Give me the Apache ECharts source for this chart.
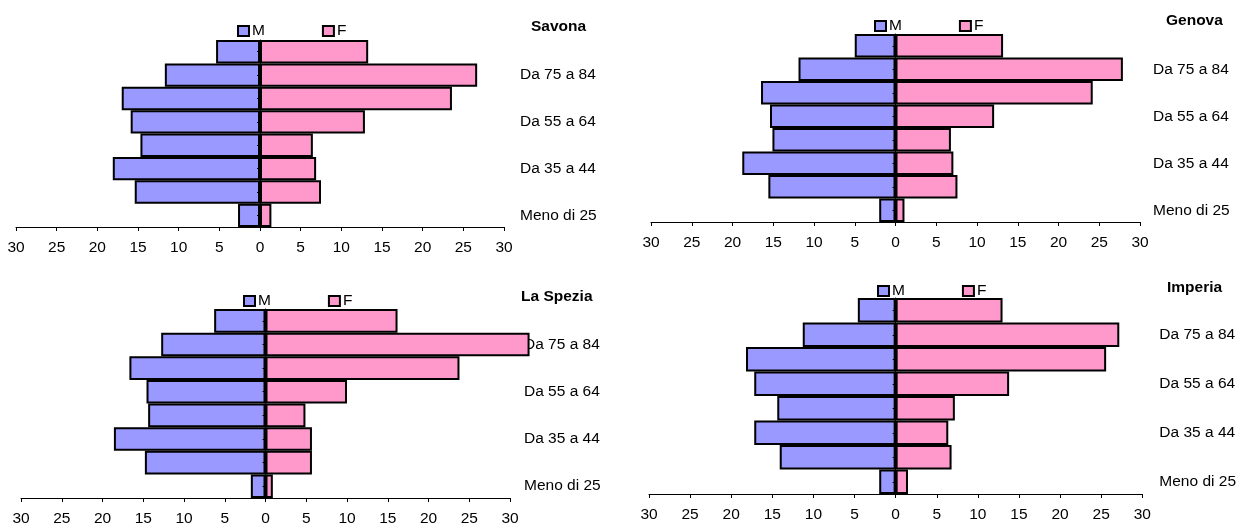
<!DOCTYPE html>
<html>
<head>
<meta charset="utf-8">
<script src="https://cdn.jsdelivr.net/npm/echarts@6/dist/echarts.min.js"></script>
<style>
  html, body { margin: 0; padding: 0; background: #fff; }
  #chart { width: 1239px; height: 527px; }
</style>
</head>
<body>
<div id="chart"></div>
<script>
// Age groups, bottom to top of each pyramid
const ageGroups = ['Meno di 25', 'Da 25 a 34', 'Da 35 a 44', 'Da 45 a 54',
                   'Da 55 a 64', 'Da 65 a 74', 'Da 75 a 84', '85 e oltre'];

// Share (%) of males and females per age group, by province
const savonaM   = [2.7, 15.4, 18.1, 14.7, 15.9, 17.0, 11.7, 5.4];
const savonaF   = [1.4, 7.5, 6.9, 6.5, 12.9, 23.6, 26.7, 13.3];
const genovaM   = [2.0, 15.6, 18.8, 15.1, 15.4, 16.5, 11.9, 5.0];
const genovaF   = [1.1, 7.6, 7.1, 6.8, 12.1, 24.2, 27.9, 13.2];
const speziaM   = [1.8, 14.8, 18.6, 14.4, 14.6, 16.7, 12.8, 6.3];
const speziaF   = [0.9, 5.7, 5.7, 4.9, 10.0, 23.8, 32.4, 16.2];
const imperiaM  = [2.0, 14.1, 17.2, 14.4, 17.2, 18.2, 11.3, 4.6];
const imperiaF  = [1.5, 6.8, 6.4, 7.2, 13.8, 25.6, 27.2, 13.0];

const provinces = ['Savona', 'Genova', 'La Spezia', 'Imperia'];
const valuesM = [savonaM, genovaM, speziaM, imperiaM];
const valuesF = [savonaF, genovaF, speziaF, imperiaF];

// Axis range of the value axis (shown as absolute numbers on both sides)
const axisMin = -30, axisMax = 30, axisStep = 5;

// Placement of each pyramid on the page
const layout = [
  { grid: { left: 16,  top: 40,  width: 488, height: 187 }, labelGap: 16, legend: { left: 237, top: 23 }, title: { left: 531,  top: 19 } },
  { grid: { left: 651, top: 34,  width: 489, height: 188 }, labelGap: 13, legend: { left: 874, top: 18 }, title: { left: 1166, top: 13 } },
  { grid: { left: 21,  top: 309, width: 489, height: 189 }, labelGap: 14, legend: { left: 243, top: 293 }, title: { left: 521, top: 289 } },
  { grid: { left: 649, top: 298, width: 496, height: 196 }, labelGap: 17, legend: { left: 877, top: 283 }, title: { left: 1167, top: 280 } }
];

const FONT = '"Liberation Sans", Arial, sans-serif';
const LABEL_SIZE = 15.5;
const colorM = '#9999FF';
const colorF = '#FF99CC';

const option = {
  backgroundColor: '#ffffff',
  animation: false,
  textStyle: { fontFamily: FONT, color: '#000' },
  title: [], legend: [], grid: [], xAxis: [], yAxis: [], series: []
};

provinces.forEach((name, i) => {
  const L = layout[i];
  option.title.push({
    text: name, left: L.title.left, top: L.title.top, padding: 0,
    textStyle: { fontFamily: FONT, fontSize: 15.5, fontWeight: 'bold', color: '#000' }
  });
  option.legend.push({
    data: ['M', 'F'], left: L.legend.left, top: L.legend.top, padding: 0,
    orient: 'horizontal', itemGap: 57, itemWidth: 11, itemHeight: 10,
    icon: 'rect', selectedMode: false,
    itemStyle: { borderColor: '#000', borderWidth: 2 },
    textStyle: { fontFamily: FONT, fontSize: LABEL_SIZE, color: '#000', padding: [0, 0, 0, -2] }
  });
  option.grid.push(Object.assign({ containLabel: false }, L.grid));
  option.xAxis.push({
    type: 'value', gridIndex: i, min: axisMin, max: axisMax, interval: axisStep,
    axisLine: { show: true, onZero: false, lineStyle: { color: '#000', width: 1 } },
    axisTick: { show: true, length: 4, lineStyle: { color: '#000' } },
    splitLine: { show: false },
    axisLabel: { margin: 13, fontSize: LABEL_SIZE, fontFamily: FONT, color: '#000',
                 formatter: v => String(Math.abs(v)) }
  });
  // central axis at zero, with ticks at each age group
  option.yAxis.push({
    type: 'category', gridIndex: i, data: ageGroups, position: 'left', z: 5,
    axisLine: { show: true, onZero: true, lineStyle: { color: '#000', width: 1 } },
    axisTick: { show: true, alignWithLabel: true, interval: 0, length: 3, lineStyle: { color: '#000' } },
    axisLabel: { show: false }, splitLine: { show: false }
  });
  // age group names on the right side
  option.yAxis.push({
    type: 'category', gridIndex: i, data: ageGroups, position: 'right',
    axisLine: { show: false }, axisTick: { show: false }, splitLine: { show: false },
    axisLabel: { show: true, interval: 1, margin: L.labelGap, fontSize: LABEL_SIZE,
                 fontFamily: FONT, color: '#000' }
  });
  const yIdx = i * 2;
  option.series.push({
    name: 'M', type: 'bar', xAxisIndex: i, yAxisIndex: yIdx,
    data: valuesM[i].map(v => -v), barCategoryGap: '0%', barGap: '-100%', clip: false,
    itemStyle: { color: colorM, borderColor: '#000', borderWidth: 2 }
  });
  option.series.push({
    name: 'F', type: 'bar', xAxisIndex: i, yAxisIndex: yIdx,
    data: valuesF[i].slice(), barCategoryGap: '0%', barGap: '-100%', clip: false,
    itemStyle: { color: colorF, borderColor: '#000', borderWidth: 2 }
  });
});

const chart = echarts.init(document.getElementById('chart'), null, { renderer: 'canvas' });
chart.setOption(option);
</script>
</body>
</html>
